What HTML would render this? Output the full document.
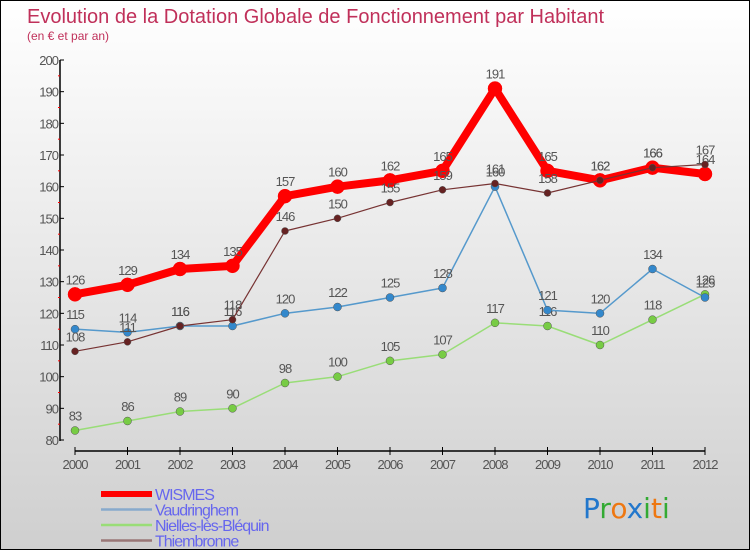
<!DOCTYPE html>
<html><head><meta charset="utf-8"><style>
body{margin:0}
#c{width:748px;height:548px;border:1px solid #000;background:linear-gradient(#fff,#cfcfcf);position:relative;overflow:hidden;font-family:"Liberation Sans","DejaVu Sans",sans-serif}
</style></head><body>
<div id="c">
<svg id="s" width="748" height="548" xmlns="http://www.w3.org/2000/svg"></svg>
</div>
<script>
const years=["2000","2001","2002","2003","2004","2005","2006","2007","2008","2009","2010","2011","2012"];
const wismes=[126,129,134,135,157,160,162,165,191,165,162,166,164];
const vaud=[115,114,116,116,120,122,125,128,160,121,120,134,125];
const nielles=[83,86,89,90,98,100,105,107,117,116,110,118,126];
const thiem=[108,111,116,118,146,150,155,159,161,158,162,166,167];
const yTicks=[80,90,100,110,120,130,140,150,160,170,180,190,200];
const NS="http://www.w3.org/2000/svg",s=document.getElementById('s');
const X=i=>74+i*52.5, Y=v=>439-(v-80)*(380/120);
function el(t,a,txt){const e=document.createElementNS(NS,t);for(const k in a)e.setAttribute(k,a[k]);if(txt!=null)e.textContent=txt;s.appendChild(e);return e;}
let e;
e=el('text',{x:26,y:22,fill:'#c0305a','font-size':20},'Evolution de la Dotation Globale de Fonctionnement par Habitant');

e=el('text',{x:26,y:39,fill:'#c0305a','font-size':12},'(en € et par an)');

e=el('line',{x1:59,y1:59,x2:59,y2:440,stroke:'#000','stroke-width':1.5});

e=el('line',{x1:74,y1:450,x2:704,y2:450,stroke:'#000','stroke-width':1.5});

yTicks.forEach(v=>{
 el('line',{x1:59,y1:Y(v),x2:63,y2:Y(v),stroke:'#000'});
 if(v<200){el('line',{x1:57,y1:Y(v+5),x2:59,y2:Y(v+5),stroke:'#f00'});}
 e=el('text',{x:57,y:Y(v)+5,'text-anchor':'end','font-size':13,fill:'#555','letter-spacing':'-1'},v);
 
});
years.forEach((y,i)=>{
 el('line',{x1:X(i),y1:446,x2:X(i),y2:454,stroke:'#000'});
 e=el('text',{x:X(i),y:468,'text-anchor':'middle','font-size':13,fill:'#555','letter-spacing':'-1'},y);
 
});
function series(d,col,w,r,dot,name){
 e=el('polyline',{points:d.map((v,i)=>X(i)+','+Y(v)).join(' '),fill:'none',stroke:col,'stroke-width':w,'stroke-linejoin':'round'});
 
 d.forEach((v,i)=>{
  e=el('circle',{cx:X(i),cy:Y(v),r:r,fill:dot,stroke:col==='#f00'?'#f00':'#555','stroke-width':0.5});
  
  e=el('text',{x:X(i),y:Y(v)-10,'text-anchor':'middle','font-size':13,fill:'#555','letter-spacing':'-1'},v);
  
 });
}
series(nielles,'#99dd77',1.5,4,'#77cc44','nielles');
series(vaud,'#5599cc',1.5,4,'#3388cc','vaudringhem');
series(wismes,'#f00',8,7,'#f00','wismes');
series(thiem,'#773333',1.2,3.5,'#662222','thiembronne');
const leg=[['WISMES','#f00',6],['Vaudringhem','#88aacc',2.5],['Nielles-lès-Bléquin','#99dd77',2.5],['Thiembronne','#997777',2.5]];
leg.forEach((l,i)=>{
 const y=493+i*15.5;
 e=el('line',{x1:100,y1:y,x2:151,y2:y,stroke:l[1],'stroke-width':l[2]});
 
 e=el('text',{x:154,y:y+6,'font-size':16,fill:'#6666ee','letter-spacing':'-1'},l[0]);
 
});
e=el('text',{x:582,y:517,'font-size':28,'font-family':'"DejaVu Sans",sans-serif'});

[['P','#2277cc'],['r','#33aa33'],['o','#ee7711'],['x','#2277cc'],['i','#33aa33'],['t','#ee7711'],['i','#33aa33']].forEach(c=>{const t=document.createElementNS(NS,'tspan');t.setAttribute('fill',c[1]);t.textContent=c[0];e.appendChild(t);});
</script>
</body></html>
